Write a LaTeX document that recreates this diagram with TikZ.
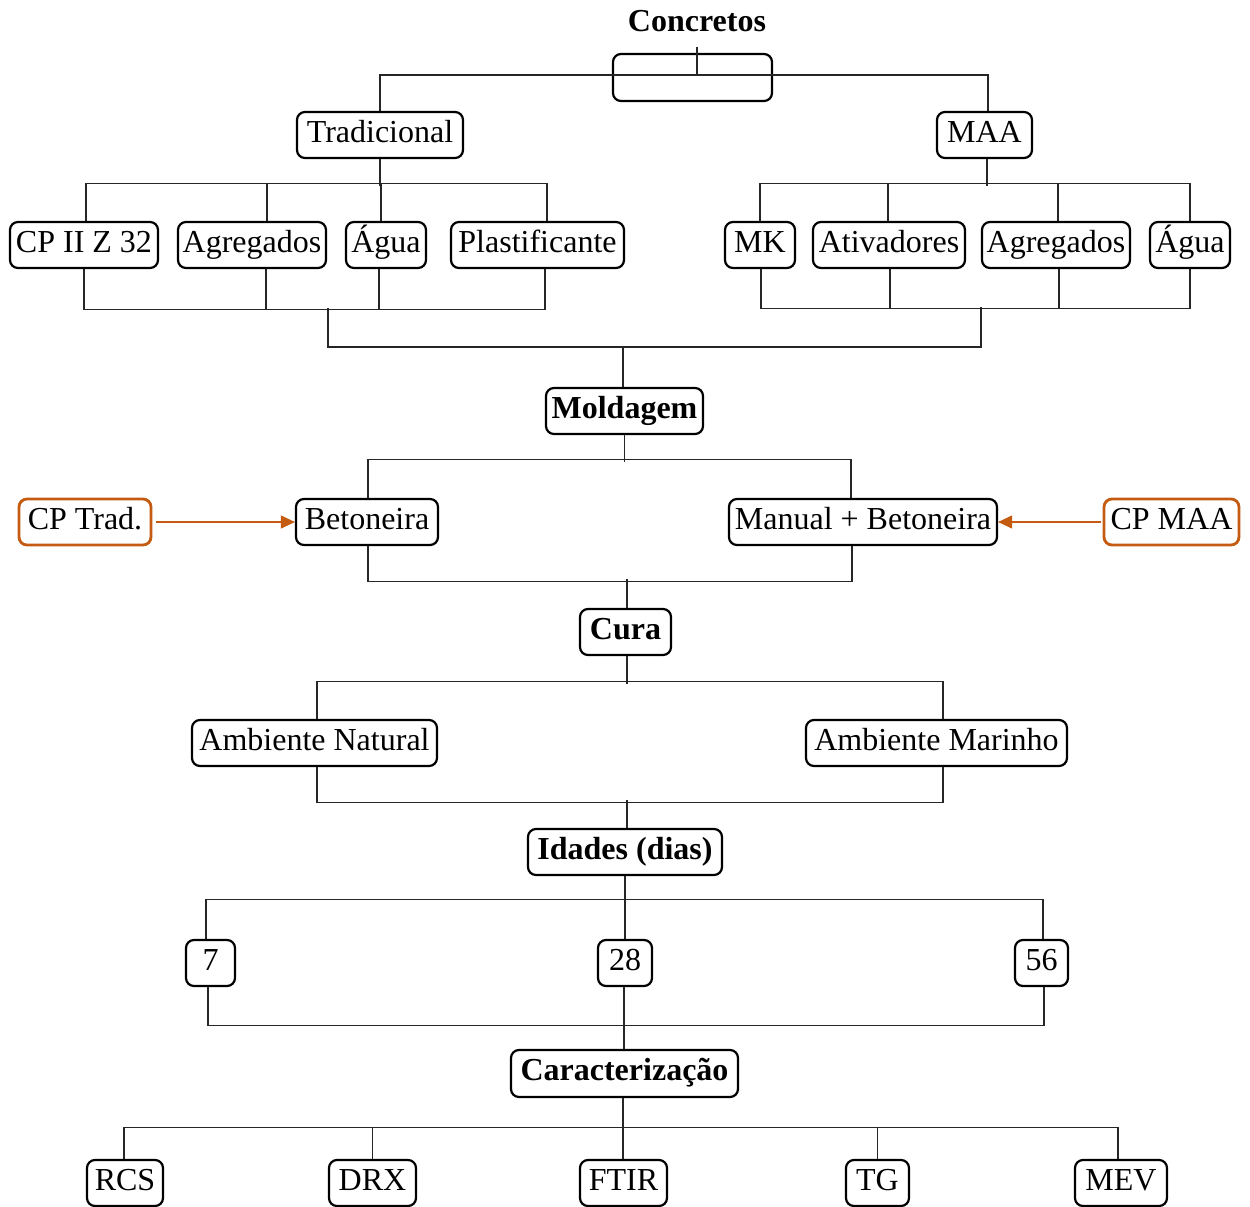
\documentclass[tikz,border=0pt]{standalone}
\usepackage{fontspec}
\setmainfont{Liberation Serif}
\usetikzlibrary{arrows.meta}
\definecolor{orng}{HTML}{C55A11}
\begin{document}
\begin{tikzpicture}[x=1pt,y=-1pt,
  box/.style={draw=black, line width=2.2pt, rounded corners=8pt, minimum height=46pt,
    inner sep=0pt, text height=22pt, text depth=8pt, font=\fontsize{32}{38}\selectfont},
  bbox/.style={box, font=\fontsize{32}{38}\selectfont\bfseries},
  obox/.style={box, draw=orng, line width=2.8pt},
  conn/.style={line width=1.1pt, draw=black!85},
  oarr/.style={line width=1.1pt, draw=orng, -{Triangle[length=14pt,width=13pt]}}]
\useasboundingbox (0,0) rectangle (1250,1207);

% nodes
\node[font=\fontsize{32}{38}\selectfont\bfseries] (title) at (697,21) {Concretos};
\node[box, minimum width=159pt, minimum height=47pt] (root) at (692.5,77.5) {};
\node[box, minimum width=166pt] (trad) at (380,135) {Tradicional};
\node[box, minimum width=95pt] (maa) at (984.5,135) {MAA};

\node[box, minimum width=148pt] (cp) at (84,245) {CP II Z 32};
\node[box, minimum width=148pt] (agr1) at (252,245) {Agregados};
\node[box, minimum width=80pt] (agua1) at (386,245) {Água};
\node[box, minimum width=173pt] (plast) at (537.5,245) {Plastificante};
\node[box, minimum width=70pt] (mk) at (760,245) {MK};
\node[box, minimum width=152pt] (ativ) at (889,245) {Ativadores};
\node[box, minimum width=148pt] (agr2) at (1056,245) {Agregados};
\node[box, minimum width=80pt] (agua2) at (1190,245) {Água};

\node[bbox, minimum width=157pt] (mold) at (624.5,411) {Moldagem};
\node[obox, minimum width=132pt] (cptrad) at (85,522) {CP Trad.};
\node[box, minimum width=142pt] (beton) at (367,522) {Betoneira};
\node[box, minimum width=268pt] (manual) at (863,522) {Manual + Betoneira};
\node[obox, minimum width=135pt] (cpmaa) at (1171.5,522) {CP MAA};

\node[bbox, minimum width=91pt] (cura) at (625.5,632) {Cura};
\node[box, minimum width=245pt] (ambn) at (314.5,743) {Ambiente Natural};
\node[box, minimum width=261pt] (ambm) at (936.5,743) {Ambiente Marinho};

\node[bbox, minimum width=194pt] (idades) at (625,852) {Idades (dias)};
\node[box, minimum width=49pt] (d7) at (210.5,963) {7};
\node[box, minimum width=54pt] (d28) at (625,963) {28};
\node[box, minimum width=53pt] (d56) at (1041.5,963) {56};

\node[bbox, minimum width=227pt, minimum height=47pt] (carac) at (624.5,1073.5) {Caracterização};
\node[box, minimum width=76pt] (rcs) at (125,1183) {RCS};
\node[box, minimum width=87pt] (drx) at (372.5,1183) {DRX};
\node[box, minimum width=87pt] (ftir) at (623.5,1183) {FTIR};
\node[box, minimum width=63pt] (tg) at (877.5,1183) {TG};
\node[box, minimum width=92pt] (mev) at (1121,1183) {MEV};

% top
\draw[conn] ([xshift=4.5pt,yshift=30.5pt]root.center) -- ([xshift=4.5pt,yshift=2.5pt]root.center);
\coordinate (bus0) at (697,75);
\draw[conn] (trad.north) |- (bus0) -| ([xshift=3.5pt]maa.north);

% traditional inputs
\draw[conn] (trad.south) -- ++(0,27);
\draw[conn] ([xshift=2pt]cp.north) |- ([xshift=9.5pt,yshift=37pt]plast.north) -- ([xshift=9.5pt]plast.north);
\draw[conn] ([xshift=15pt]agr1.north) -- ++(0,-37);
\draw[conn] ([xshift=-5pt]agua1.north) -- ++(0,-37);
% MAA inputs
\draw[conn] ([xshift=2.5pt]maa.south) -- ++(0,27);
\draw[conn] (mk.north) |- ([yshift=37pt]agua2.north) -- (agua2.north);
\draw[conn] ([xshift=-1pt]ativ.north) -- ++(0,-37);
\draw[conn] ([xshift=2pt]agr2.north) -- ++(0,-37);

% bottom buses of inputs
\draw[conn] (cp.south) |- ([xshift=7.5pt,yshift=-40pt]plast.south) -- ([xshift=7.5pt]plast.south);
\draw[conn] ([xshift=14pt]agr1.south) -- ++(0,40);
\draw[conn] ([xshift=-7pt]agua1.south) -- ++(0,40);
\draw[conn] ([xshift=1pt]mk.south) |- ([yshift=-39pt]agua2.south) -- (agua2.south);
\draw[conn] ([xshift=1pt]ativ.south) -- ++(0,39);
\draw[conn] ([xshift=3pt]agr2.south) -- ++(0,39);
\coordinate (jl) at (328,308);
\coordinate (jr) at (981,307);
\coordinate (jm) at (623,347);
\draw[conn] (jl) |- (jm) -| (jr);
\draw[conn] ([xshift=-1.5pt]mold.north) -- ++(0,-41);

% moldagem
\draw[conn] (mold.south) -- ++(0,27);
\draw[conn] ([xshift=1pt]beton.north) |- ([xshift=-12pt,yshift=38pt]manual.north) -- ([xshift=-12pt]manual.north);
\draw[conn] ([xshift=1pt]beton.south) |- ([xshift=-11pt,yshift=-35pt]manual.south) -- ([xshift=-11pt]manual.south);
\draw[conn] ([xshift=1.5pt]cura.north) -- ++(0,-29);
\draw[oarr] ([xshift=4pt]cptrad.east) -- (beton.west);
\draw[oarr] ([xshift=-2pt]cpmaa.west) -- (manual.east);

% cura
\draw[conn] ([xshift=1.5pt]cura.south) -- ++(0,28);
\draw[conn] ([xshift=2.5pt]ambn.north) |- ([xshift=6.5pt,yshift=37pt]ambm.north) -- ([xshift=6.5pt]ambm.north);
\draw[conn] ([xshift=2.5pt]ambn.south) |- ([xshift=6.5pt,yshift=-35pt]ambm.south) -- ([xshift=6.5pt]ambm.south);
\draw[conn] ([xshift=2pt]idades.north) -- ++(0,-28);

% idades
\draw[conn] (idades.south) -- ++(0,26);
\draw[conn] ([xshift=-4.5pt]d7.north) |- ([xshift=1.5pt,yshift=39pt]d56.north) -- ([xshift=1.5pt]d56.north);
\draw[conn] (d28.north) -- ++(0,-39);
\draw[conn] ([xshift=-2.5pt]d7.south) |- ([xshift=2.5pt,yshift=-38pt]d56.south) -- ([xshift=2.5pt]d56.south);
\draw[conn] ([xshift=-1pt]d28.south) -- ++(0,38);
\draw[conn] ([xshift=-0.5pt]carac.north) -- ++(0,-26);

% caracterizacao
\draw[conn] ([xshift=-1.5pt]carac.south) -- ([xshift=-0.5pt]ftir.north);
\draw[conn] ([xshift=-1pt]rcs.north) |- ([xshift=-3pt,yshift=31pt]mev.north) -- ([xshift=-3pt]mev.north);
\draw[conn] (drx.north) -- ++(0,-31);
\draw[conn] (tg.north) -- ++(0,-31);
\end{tikzpicture}
\end{document}
